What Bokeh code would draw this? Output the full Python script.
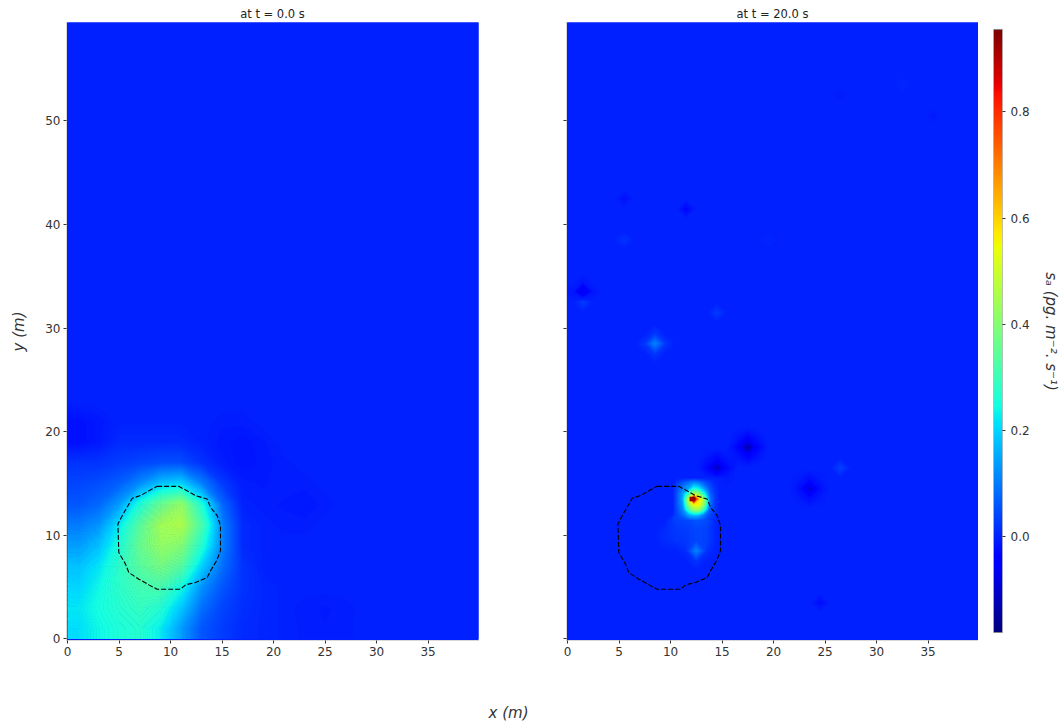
import numpy as np
from bokeh.plotting import figure
from bokeh.layouts import row, column
from bokeh.models import FixedTicker, Label, LinearColorMapper
from bokeh.embed import file_html
from bokeh.resources import INLINE

# colour scale limits and background level
vmin, vmax = -0.18, 0.955
background = 0.0
colorbar_ticks = [0.0, 0.2, 0.4, 0.6, 0.8]
x_ticks = [0, 5, 10, 15, 20, 25, 30, 35]
y_ticks = [0, 10, 20, 30, 40, 50]
titles = ["at t = 0.0 s", "at t = 20.0 s"]

# t = 0 field read on a 2 m grid: rows y = 1, 3, ... and columns x = 1, 3, ...
left_rows = [
    [.21, .24, .26, .27, .23, .14, .06, .03, .01, .005, .0, -.004, -.007, -.004, .0],
    [.22, .25, .27, .29, .27, .19, .09, .04, .015, .005, .0, -.005, -.008, -.005, .0],
    [.20, .24, .28, .31, .32, .25, .13, .06, .02, .005, .0, .0, .0, .0, .0],
    [.18, .22, .28, .34, .38, .34, .20, .09, .02, .0, .0, .0, .0, .0, .0],
    [.14, .18, .26, .36, .42, .40, .27, .11, .01, .0, .0, .0, .0, .0, .0],
    [.10, .13, .22, .34, .44, .46, .32, .11, .01, .0, -.005, -.005, .0, .0, .0],
    [.06, .08, .14, .26, .36, .42, .26, .08, .0, -.005, -.008, -.012, -.005, .0, .0],
    [.04, .05, .07, .12, .18, .20, .11, .03, -.005, -.008, -.004, -.005, .0, .0, .0],
    [.02, .02, .03, .04, .05, .05, .02, -.005, -.015, -.01, -.004, .0, .0, .0, .0],
    [-.02, -.01, .01, .01, .01, .01, .0, -.01, -.015, -.008, .0, .0, .0, .0, .0],
    [-.02, -.01, .0, .0, .0, .0, .0, -.005, -.005, .0, .0, .0, .0, .0, .0],
]

# t = 20 field read on a 1 m grid: only the cells that differ from the background
spot_x = [14, 13, 15, 14, 15, 13, 15,
          17, 16, 18, 17, 17, 16, 18, 16, 18,
          23, 22, 24, 23, 23, 22, 24, 22, 24,
          1, 0, 2, 1,
          1, 11, 5, 24,
          8, 7, 9, 8, 8,
          26, 14, 5,
          10, 11, 12, 13, 10, 11, 12, 13, 10, 11, 12, 13, 12, 11, 13, 12, 12, 9, 9,
          35, 32, 26, 19]
spot_y = [16, 16, 16, 17, 17, 17, 15,
          18, 18, 18, 19, 17, 19, 19, 17, 17,
          14, 14, 14, 15, 13, 15, 15, 13, 13,
          33, 33, 33, 34,
          32, 41, 42, 3,
          28, 28, 28, 29, 27,
          16, 31, 38,
          10, 10, 10, 10, 9, 9, 9, 9, 11, 11, 11, 11, 8, 8, 8, 7, 9, 10, 9,
          50, 53, 52, 38]
spot_v = [-.12, -.03, -.03, -.03, -.01, -.01, -.008,
          -.14, -.035, -.035, -.035, -.035, -.012, -.012, -.012, -.012,
          -.09, -.022, -.022, -.022, -.022, -.007, -.007, -.007, -.007,
          -.08, -.012, -.012, -.012,
          .03, -.035, -.02, -.025,
          .11, .025, .025, .025, .025,
          .035, .03, .02,
          .025, .03, .04, .035, .02, .025, .04, .035, .035, .04, .06, .05, .11, .012, .02, .02, .04, .012, .012,
          -.008, .006, -.006, .006]

# peak of the t = 20 field read on a 0.5 m grid
peak_x = [10.25, 10.75, 11.25, 11.75, 12.25, 12.75, 13.25, 13.75, 14.25, 14.75]
peak_y = [11.5, 12.0, 12.5, 13.0, 13.5, 14.0, 14.5, 15.0, 15.5]
peak_rows = [
    [.035, .04, .045, .05, .06, .055, .05, .03, .01, .0],
    [.01, .05, .09, .15, .18, .17, .10, .05, .02, .0],
    [.0, .06, .12, .30, .42, .42, .28, .07, .03, .0],
    [.0, .07, .14, .42, .55, .55, .40, .10, .03, .0],
    [.0, .07, .16, .46, .954, .58, .40, .10, .03, .0],
    [.0, .07, .15, .30, .45, .40, .25, .08, .03, .0],
    [.0, .06, .11, .15, .25, .22, .14, .06, .02, .0],
    [.0, .04, .07, .10, .13, .11, .07, .04, .01, .0],
    [.0, .0, .0, .0, .0, .0, .0, .0, .0, .0],
]

# the single saturated cell at the top of the peak
hot_left, hot_right = [11.85], [12.4]
hot_bottom, hot_top = [13.3], [13.72]
hot_value = 0.93

# dashed outline
circle_x = [8.7, 10.8, 11.46, 12.43, 13.56, 13.88, 14.53, 14.85, 14.85, 14.47, 13.88, 13.56, 12.43, 11.46,
            10.97, 8.7, 7.9, 6.93, 5.95, 5.63, 4.98, 4.89, 5.31, 5.95, 6.28, 7.09, 7.9, 8.7]
circle_y = [14.73, 14.73, 14.38, 13.84, 13.5, 12.7, 11.9, 10.93, 8.5, 7.55, 6.57, 5.94, 5.45, 5.22,
            4.8, 4.8, 5.22, 5.77, 6.41, 7.22, 8.35, 11.1, 11.9, 13.0, 13.58, 13.84, 14.3, 14.73]


def jet():
    pts = np.linspace(0, 1, 256)
    r = np.interp(pts, [0, .35, .66, .89, 1], [0, 0, 1, 1, .5])
    g = np.interp(pts, [0, .125, .375, .64, .91, 1], [0, 0, 1, 1, 0, 0])
    b = np.interp(pts, [0, .11, .34, .65, 1], [.5, 1, 1, 0, 0])
    return ["#%02x%02x%02x" % (int(a * 255), int(c * 255), int(d * 255)) for a, c, d in zip(r, g, b)]


palette = jet()
levels = np.linspace(vmin, vmax, 257)
line_palette = palette + [palette[-1]]
bg_colour = palette[int((background - vmin) / (vmax - vmin) * 255)]
hot_colour = palette[int((hot_value - vmin) / (vmax - vmin) * 255)]
mapper = LinearColorMapper(palette=palette, low=vmin, high=vmax)

left_grid = np.full((30, 20), background)
left_arr = np.array(left_rows)
left_grid[:left_arr.shape[0], :left_arr.shape[1]] = left_arr
left_x = [0.0] + [1.0 + 2 * i for i in range(20)] + [40.0]
left_y = [0.0] + [1.0 + 2 * i for i in range(30)] + [60.0]
left_z = np.pad(left_grid, 1, mode="edge")

right_grid = np.full((60, 40), background)
right_grid[spot_y, spot_x] = spot_v
right_x = [0.0] + [0.5 + i for i in range(40)] + [40.0]
right_y = [0.0] + [0.5 + i for i in range(60)] + [60.0]
right_z = np.pad(right_grid, 1, mode="edge")


def panel(title, x, y, z, show_y, extra=None):
    p = figure(width=(522 if show_y else 456), height=682, output_backend="svg", toolbar_location=None,
               x_range=(-0.1, 39.9), y_range=(-0.15, 59.5), min_border_left=(66 if show_y else 44),
               min_border_right=(44 if show_y else 0), min_border_top=22, min_border_bottom=42,
               background_fill_color=bg_colour)
    p.contour(x, y, z, levels, fill_color=palette, line_color=line_palette, line_width=1)
    if extra is not None:
        p.contour(extra[0], extra[1], extra[2], levels, fill_color=palette, line_color=line_palette, line_width=1)
        p.quad(left=hot_left, right=hot_right, bottom=hot_bottom, top=hot_top, fill_color=hot_colour, line_color=None)
    p.line(circle_x, circle_y, line_color="black", line_width=1.1, line_dash="5 2")
    p.title.text = title
    p.title.align = "center"
    p.title.text_font = "DejaVu Sans"
    p.title.text_font_size = "11.5px"
    p.title.text_font_style = "normal"
    p.title.text_color = "#222222"
    p.title.standoff = 3
    p.xgrid.visible = False
    p.ygrid.visible = False
    p.outline_line_color = None
    p.xaxis.ticker = FixedTicker(ticks=x_ticks)
    p.yaxis.ticker = FixedTicker(ticks=y_ticks)
    for ax in (p.xaxis[0], p.yaxis[0]):
        ax.axis_line_color = "#d8d8d8"
        ax.major_tick_line_color = "#333333"
        ax.major_tick_in = 0
        ax.major_tick_out = 3
        ax.minor_tick_line_color = None
        ax.major_label_text_font = "DejaVu Sans"
        ax.major_label_text_font_size = "12px"
        ax.major_label_text_color = "#333333"
        ax.major_label_standoff = 3
    if show_y:
        p.yaxis.axis_label = "y (m)"
        p.yaxis.axis_label_text_font = "DejaVu Sans"
        p.yaxis.axis_label_text_font_size = "15px"
        p.yaxis.axis_label_text_font_style = "italic"
        p.yaxis.axis_label_text_color = "#333333"
        p.yaxis.axis_label_standoff = 14
    else:
        p.yaxis.major_label_text_color = None
    return p


p1 = panel(titles[0], left_x, left_y, left_z, True)
p2 = panel(titles[1], right_x, right_y, right_z, False, extra=(peak_x, peak_y, np.array(peak_rows)))

p3 = figure(width=84, height=682, output_backend="svg", toolbar_location=None,
            x_range=(0, 1), y_range=(-0.195, 0.968), min_border_left=15, min_border_right=51,
            min_border_top=22, min_border_bottom=42, y_axis_location="right")
p3.image(image=[np.linspace(vmin, vmax, 256).reshape(-1, 1)], x=0, y=vmin, dw=1, dh=vmax - vmin, color_mapper=mapper)
p3.quad(left=[0], right=[1], bottom=[vmin], top=[vmax], fill_color=None, line_color="#888888", line_width=1)
p3.xaxis.visible = False
p3.xgrid.visible = False
p3.ygrid.visible = False
p3.outline_line_color = None
p3.yaxis.ticker = FixedTicker(ticks=colorbar_ticks)
ax = p3.yaxis[0]
ax.axis_line_color = None
ax.major_tick_line_color = "#333333"
ax.major_tick_in = 0
ax.major_tick_out = 3
ax.minor_tick_line_color = None
ax.major_label_text_font = "DejaVu Sans"
ax.major_label_text_font_size = "12px"
ax.major_label_text_color = "#333333"
ax.major_label_overrides = {t: "%.1f" % t for t in colorbar_ticks}
ax.axis_label = "sₐ (pg. m⁻². s⁻¹)"
ax.axis_label_text_font = "DejaVu Sans"
ax.axis_label_text_font_size = "15px"
ax.axis_label_text_font_style = "italic"
ax.axis_label_text_color = "#333333"
ax.axis_label_standoff = 9

footer = figure(width=1062, height=40, output_backend="svg", toolbar_location=None,
                x_range=(0, 1062), y_range=(0, 40), min_border=0)
footer.axis.visible = False
footer.grid.visible = False
footer.outline_line_color = None
footer.add_layout(Label(x=508, y=10, text="x (m)", text_align="center", text_baseline="middle",
                        text_font="DejaVu Sans", text_font_size="15px", text_font_style="italic",
                        text_color="#333333"))

page = column(row(p1, p2, p3, spacing=0), footer, spacing=0)
open("out.html", "w").write(file_html(page, INLINE))
